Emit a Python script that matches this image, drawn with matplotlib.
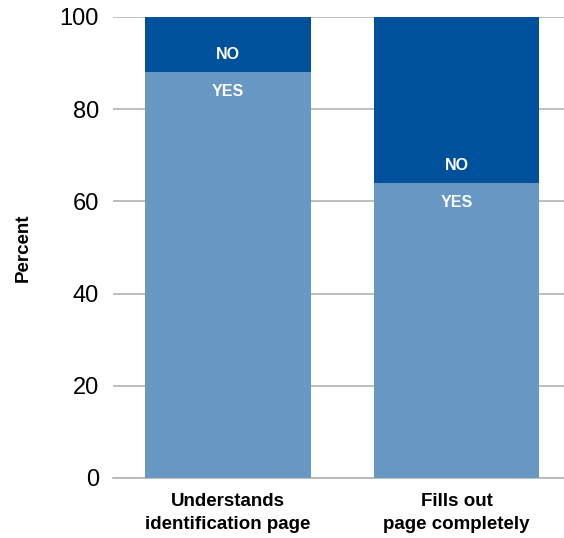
import matplotlib
matplotlib.use("Agg")
import matplotlib.pyplot as plt

plt.rcParams["font.family"] = ["Liberation Sans", "DejaVu Sans"]

categories = ["Understands\nidentification page", "Fills out\npage completely"]
yes_values = [88, 64]
no_values = [12, 36]
yticks = [0, 20, 40, 60, 80, 100]

yes_color = "#6797C3"
no_color = "#00519B"
grid_color = "#B3B3B3"

fig = plt.figure(figsize=(5.64, 5.38), dpi=100)
ax = fig.add_axes([113 / 564, 1 - 478 / 538, (564 - 113) / 564, (478 - 17) / 538])

x = list(range(len(categories)))
width = 0.725
ax.bar(x, yes_values, width=width, color=yes_color, zorder=3)
ax.bar(x, no_values, width=width, bottom=yes_values, color=no_color, zorder=3)

for xi, y, n in zip(x, yes_values, no_values):
    ax.text(xi, y + 3.8, "NO", ha="center", va="center", color="white",
            fontsize=11.5, fontweight="bold", zorder=4)
    ax.text(xi, y - 4.2, "YES", ha="center", va="center", color="white",
            fontsize=11.5, fontweight="bold", zorder=4)

ax.set_xlim(-0.502, 1.47)
ax.set_ylim(0, 100)
ax.set_yticks(yticks)
ax.set_yticklabels([str(t) for t in yticks], fontsize=17)
ax.yaxis.grid(True, color=grid_color, linewidth=1.2, zorder=0)
ax.tick_params(axis="y", length=0, pad=10)
ax.tick_params(axis="x", length=0, pad=11)
ax.set_xticks(x)
ax.set_xticklabels(categories, fontsize=13.5, fontweight="bold", linespacing=1.45)

for side in ["top", "right", "left"]:
    ax.spines[side].set_visible(False)
ax.spines["bottom"].set_color(grid_color)
ax.spines["bottom"].set_linewidth(1.2)

ax.set_ylabel("Percent", fontsize=13.5, fontweight="bold", labelpad=20)

fig.savefig("out.png", dpi=100)
